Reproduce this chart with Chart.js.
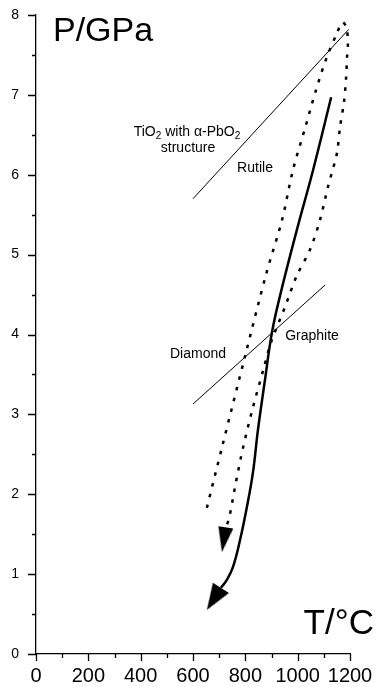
<!DOCTYPE html>
<html>
<head>
<meta charset="utf-8">
<script src="https://cdn.jsdelivr.net/npm/chart.js@4"></script>
<style>
  body { margin: 0; background: #fff; }
</style>
</head>
<body>
<canvas id="grafico" width="376" height="687"></canvas>
<script>
// P-T path (solid) and the dotted path
var solidT = [1128, 1059, 997, 936, 902, 875, 848, 829, 806, 780, 753, 730, 707];
var solidP = [6.97, 6.06, 5.31, 4.53, 4.03, 3.43, 2.80, 2.27, 1.84, 1.43, 1.09, 0.93, 0.83];

var dotT = [653, 711, 799, 879, 940, 982, 1028, 1070, 1111, 1150, 1170, 1186, 1192, 1189, 1185, 1177, 1162, 1150, 1116, 1085, 1047, 997, 951, 898, 868, 826, 791, 764, 738, 726];
var dotP = [1.83, 2.59, 3.73, 4.75, 5.43, 6.06, 6.58, 7.06, 7.47, 7.77, 7.91, 7.85, 7.65, 7.49, 7.21, 6.91, 6.6, 6.27, 5.85, 5.43, 5.06, 4.74, 4.34, 3.90, 3.55, 3.05, 2.58, 2.15, 1.70, 1.59];

// phase boundaries
var rutileT = [600, 1195];
var rutileP = [5.70, 7.82];
var graphiteT = [600, 1105];
var graphiteP = [3.13, 4.62];

// arrow heads (centre of the head)
var arrowT = [680, 718];
var arrowP = [0.69, 1.43];

var xTicks = [0, 200, 400, 600, 800, 1000, 1200];
var yTicks = [0, 1, 2, 3, 4, 5, 6, 7, 8];

// text in the plot, anchored in data units
var labelText = ['structure', 'Rutile', 'Diamond', 'Graphite'];
var labelT = [581, 837, 619, 1055];
var labelP = [6.33, 6.08, 3.76, 3.98];

var FONT = '"Liberation Sans", Arial, Helvetica, sans-serif';

function pts(xs, ys) {
    return xs.map(function (x, i) { return { x: x, y: ys[i] }; });
}

function makeArrow(w, h) {
    var c = document.createElement('canvas');
    c.width = w;
    c.height = h;
    var g = c.getContext('2d');
    g.fillStyle = '#000';
    g.beginPath();
    g.moveTo(0, 0);
    g.lineTo(w, 0);
    g.lineTo(w / 2, h);
    g.closePath();
    g.fill();
    return c;
}

function noPad(s) {
    s.paddingTop = 0;
    s.paddingBottom = 0;
    s.paddingLeft = 0;
    s.paddingRight = 0;
}

var tickMarks = {
    id: 'tickMarks',
    afterDraw: function (chart) {
        var c = chart.ctx;
        var xs = chart.scales.x, ys = chart.scales.y;
        var a = chart.chartArea;
        c.save();
        c.strokeStyle = '#000';
        c.lineWidth = 1.3;
        c.beginPath();
        for (var v = 0; v <= 8; v += 0.5) {
            var py = Math.round(ys.getPixelForValue(v)) + 0.5;
            var len = (v % 1 === 0) ? 8 : 4;
            c.moveTo(a.left - len, py);
            c.lineTo(a.left, py);
        }
        for (var t = 0; t <= 1200; t += 100) {
            var px = Math.round(xs.getPixelForValue(t)) + 0.5;
            var l2 = (t % 200 === 0) ? 7 : 4;
            c.moveTo(px, a.bottom);
            c.lineTo(px, a.bottom + l2);
        }
        c.stroke();

        // axis titles
        c.fillStyle = '#000';
        c.font = '34px ' + FONT;
        c.textAlign = 'left';
        c.textBaseline = 'alphabetic';
        c.fillText('P/GPa', a.left + 17, a.top + 26);
        c.font = '35px ' + FONT;
        c.textAlign = 'right';
        c.fillText('T/\u00B0C', chart.width - 2, a.bottom - 20);

        // labels
        c.font = '14px ' + FONT;
        c.textAlign = 'center';
        c.textBaseline = 'middle';
        for (var i = 0; i < labelText.length; i++) {
            c.fillText(labelText[i], xs.getPixelForValue(labelT[i]), ys.getPixelForValue(labelP[i]));
        }

        // TiO2 with a-PbO2 line, with subscripts
        var parts = [['TiO', 0], ['2', 1], [' with \u03B1-PbO', 0], ['2', 1]];
        var total = 0;
        parts.forEach(function (p) {
            c.font = (p[1] ? '10px ' : '14px ') + FONT;
            total += c.measureText(p[0]).width;
        });
        var cx = xs.getPixelForValue(577) - total / 2;
        var cy = ys.getPixelForValue(6.55) + 5;
        c.textAlign = 'left';
        c.textBaseline = 'alphabetic';
        parts.forEach(function (p) {
            c.font = (p[1] ? '10px ' : '14px ') + FONT;
            c.fillText(p[0], cx, cy + (p[1] ? 3 : 0));
            cx += c.measureText(p[0]).width;
        });
        c.restore();
    }
};

var ctx = document.getElementById('grafico');
var myChart = new Chart(ctx, {
    type: 'scatter',
    data: {
        datasets: [{
            data: pts(rutileT, rutileP),
            showLine: true,
            borderColor: '#000',
            borderWidth: 1,
            pointRadius: 0
        }, {
            data: pts(graphiteT, graphiteP),
            showLine: true,
            borderColor: '#000',
            borderWidth: 1,
            pointRadius: 0
        }, {
            data: pts(dotT, dotP),
            showLine: true,
            borderColor: '#000',
            borderWidth: 2.5,
            borderDash: [3.5, 7.5],
            borderCapStyle: 'butt',
            tension: 0.3,
            pointRadius: 0
        }, {
            data: pts(solidT, solidP),
            showLine: true,
            borderColor: '#000',
            borderWidth: 2.5,
            tension: 0.4,
            pointRadius: 0
        }, {
            data: pts(arrowT, arrowP),
            showLine: false,
            pointStyle: [makeArrow(19, 26), makeArrow(15, 25)],
            rotation: [32.5, 9],
            pointRadius: 10
        }]
    },
    options: {
        responsive: false,
        animation: false,
        layout: { padding: { left: 0, right: 26, top: 15, bottom: 0 } },
        plugins: {
            legend: { display: false },
            tooltip: { enabled: false }
        },
        scales: {
            x: {
                type: 'linear',
                min: 0,
                max: 1200,
                afterBuildTicks: function (s) { s.ticks = xTicks.map(function (v) { return { value: v }; }); },
                afterFit: function (s) { s.height = 33; noPad(s); },
                grid: { display: false, drawTicks: false },
                border: { display: true, color: '#000', width: 1.3 },
                ticks: {
                    color: '#000',
                    padding: 10,
                    maxRotation: 0,
                    autoSkip: false,
                    font: { family: FONT, size: 20 },
                    callback: function (v) { return String(v); }
                }
            },
            y: {
                type: 'linear',
                min: 0,
                max: 8,
                afterBuildTicks: function (s) { s.ticks = yTicks.map(function (v) { return { value: v }; }); },
                afterFit: function (s) { s.width = 36; noPad(s); },
                grid: { display: false, drawTicks: false },
                border: { display: true, color: '#000', width: 1.3 },
                ticks: {
                    color: '#000',
                    padding: 17,
                    font: { family: FONT, size: 14 },
                    callback: function (v) { return String(v); }
                }
            }
        }
    },
    plugins: [tickMarks]
});
</script>
</body>
</html>
